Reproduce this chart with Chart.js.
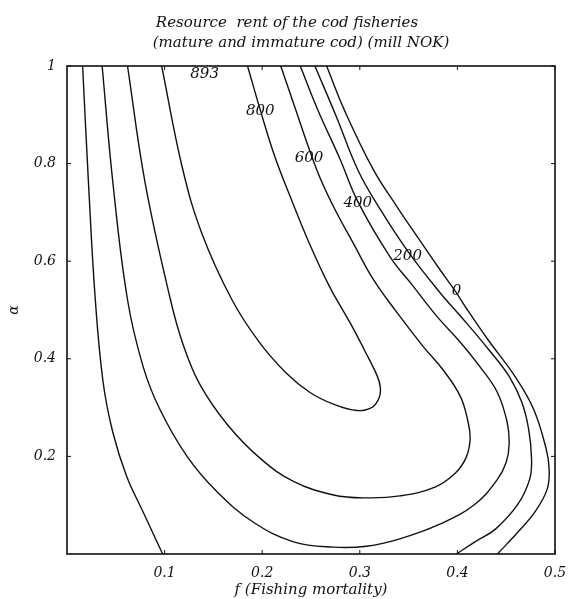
<!DOCTYPE html>
<html lang="en">
<head>
<meta charset="utf-8">
<title>Resource rent of the cod fisheries</title>
<script src="https://cdn.jsdelivr.net/npm/chart.js@4.4.1/dist/chart.umd.min.js"></script>
<style>
  html, body { margin: 0; padding: 0; background: #fff; }
</style>
</head>
<body>
<canvas id="grafico" width="570" height="599"></canvas>
<script>
// Curvas de nivel: pares [f, alfa]
const curva800 = [
  [0.097, 1.000], [0.118, 0.793], [0.138, 0.658], [0.169, 0.521], [0.197, 0.434],
  [0.224, 0.372], [0.249, 0.331], [0.273, 0.307], [0.297, 0.294], [0.313, 0.301],
  [0.320, 0.321], [0.321, 0.342], [0.318, 0.364], [0.306, 0.413], [0.290, 0.474],
  [0.269, 0.548], [0.248, 0.638], [0.230, 0.726], [0.213, 0.814], [0.198, 0.910],
  [0.185, 1.000]
];
const curva600 = [
  [0.062, 1.000], [0.080, 0.761], [0.106, 0.521], [0.119, 0.429], [0.136, 0.348],
  [0.164, 0.266], [0.198, 0.196], [0.232, 0.149], [0.273, 0.121], [0.307, 0.115],
  [0.341, 0.119], [0.377, 0.137], [0.398, 0.166], [0.409, 0.198], [0.413, 0.235],
  [0.411, 0.270], [0.403, 0.323], [0.385, 0.378], [0.365, 0.425], [0.338, 0.495],
  [0.314, 0.562], [0.293, 0.638], [0.273, 0.712], [0.256, 0.787], [0.231, 0.930],
  [0.219, 1.000]
];
const curva400 = [
  [0.036, 1.000], [0.047, 0.761], [0.062, 0.521], [0.078, 0.384], [0.095, 0.297],
  [0.123, 0.200], [0.154, 0.127], [0.191, 0.065], [0.232, 0.025], [0.273, 0.014],
  [0.307, 0.016], [0.341, 0.031], [0.382, 0.061], [0.418, 0.102], [0.441, 0.153],
  [0.450, 0.188], [0.453, 0.225], [0.451, 0.270], [0.441, 0.331], [0.423, 0.384],
  [0.403, 0.434], [0.379, 0.487], [0.355, 0.548], [0.331, 0.609], [0.298, 0.722],
  [0.280, 0.808], [0.257, 0.910], [0.239, 1.000]
];
const curva200Izq = [
  [0.016, 1.000], [0.022, 0.761], [0.029, 0.521], [0.037, 0.352], [0.047, 0.249],
  [0.061, 0.160], [0.078, 0.086], [0.098, 0.000]
];
const curva200Der = [
  [0.254, 1.000], [0.276, 0.896], [0.298, 0.787], [0.321, 0.706], [0.350, 0.618],
  [0.382, 0.536], [0.406, 0.481], [0.432, 0.419], [0.453, 0.364], [0.466, 0.311],
  [0.473, 0.256], [0.476, 0.194], [0.474, 0.153], [0.462, 0.102], [0.439, 0.051],
  [0.418, 0.025], [0.399, 0.000]
];
const curva0 = [
  [0.266, 1.000], [0.285, 0.906], [0.314, 0.787], [0.338, 0.712], [0.361, 0.644],
  [0.382, 0.583], [0.398, 0.538], [0.410, 0.501], [0.431, 0.440], [0.459, 0.364],
  [0.478, 0.297], [0.491, 0.215], [0.494, 0.174], [0.492, 0.133], [0.480, 0.088],
  [0.463, 0.047], [0.441, 0.000]
];

// Etiquetas de las curvas: [texto, f, alfa]
const etiquetas = [
  ['893', 0.141, 0.984], ['800', 0.198, 0.908], ['600', 0.248, 0.812],
  ['400', 0.298, 0.720], ['200', 0.349, 0.611], ['0', 0.399, 0.538]
];

const ticksX = [0.1, 0.2, 0.3, 0.4, 0.5];
const ticksY = [0.2, 0.4, 0.6, 0.8, 1];
const titulo = ['Resource  rent of the cod fisheries', '(mature and immature cod) (mill NOK)'];

const FUENTE = '"DejaVu Serif", serif';

function serie(puntos) {
  return {
    data: puntos.map(([f, a]) => ({ x: f, y: a })),
    showLine: true,
    borderColor: '#111',
    borderWidth: 1.4,
    pointRadius: 0,
    tension: 0.4,
    fill: false
  };
}

// Marco, marcas interiores, etiquetas y título
const extras = {
  id: 'extras',
  afterDatasetsDraw(chart) {
    const { ctx, chartArea: a, scales: { x, y } } = chart;
    ctx.save();
    ctx.strokeStyle = '#111';
    ctx.lineWidth = 1.6;
    ctx.strokeRect(a.left, a.top, a.right - a.left, a.bottom - a.top);

    ctx.lineWidth = 1;
    ctx.beginPath();
    ticksX.forEach(v => {
      const px = x.getPixelForValue(v);
      ctx.moveTo(px, a.bottom); ctx.lineTo(px, a.bottom - 4);
      ctx.moveTo(px, a.top); ctx.lineTo(px, a.top + 4);
    });
    ticksY.forEach(v => {
      const py = y.getPixelForValue(v);
      ctx.moveTo(a.left, py); ctx.lineTo(a.left + 4, py);
      ctx.moveTo(a.right, py); ctx.lineTo(a.right - 4, py);
    });
    ctx.stroke();

    ctx.fillStyle = '#111';
    ctx.font = 'italic 15px ' + FUENTE;
    ctx.textAlign = 'center';
    ctx.textBaseline = 'middle';
    etiquetas.forEach(([t, f, al]) => {
      ctx.fillText(t, x.getPixelForValue(f), y.getPixelForValue(al));
    });

    ctx.fillText(titulo[0], 287, 23);
    ctx.fillText(titulo[1], 301, 43);
    ctx.restore();
  }
};

new Chart(document.getElementById('grafico').getContext('2d'), {
  type: 'scatter',
  data: {
    datasets: [curva800, curva600, curva400, curva200Izq, curva200Der, curva0].map(serie)
  },
  options: {
    responsive: false,
    animation: false,
    devicePixelRatio: 1,
    layout: { padding: { top: 66, right: 15, left: 0, bottom: 0 } },
    plugins: {
      legend: { display: false },
      tooltip: { enabled: false }
    },
    scales: {
      x: {
        type: 'linear',
        min: 0,
        max: 0.5,
        afterBuildTicks: s => { s.ticks = ticksX.map(v => ({ value: v })); },
        afterFit: s => { s.height = 45; s.paddingLeft = 0; s.paddingRight = 0; },
        grid: { display: false, drawTicks: false },
        border: { display: false },
        ticks: {
          padding: 11,
          color: '#111',
          maxRotation: 0,
          font: { family: FUENTE, size: 14, style: 'italic' },
          callback: v => String(v)
        },
        title: {
          display: true,
          text: 'f (Fishing mortality)',
          color: '#111',
          padding: { top: 0, bottom: 0 },
          font: { family: FUENTE, size: 15, style: 'italic' }
        }
      },
      y: {
        type: 'linear',
        min: 0,
        max: 1,
        afterBuildTicks: s => { s.ticks = ticksY.map(v => ({ value: v })); },
        afterFit: s => { s.width = 67; s.paddingTop = 0; s.paddingBottom = 0; },
        grid: { display: false, drawTicks: false },
        border: { display: false },
        ticks: {
          padding: 11,
          color: '#111',
          font: { family: FUENTE, size: 14, style: 'italic' },
          callback: v => String(v)
        },
        title: {
          display: true,
          text: 'α',
          color: '#111',
          padding: { top: 6, bottom: 0 },
          font: { family: FUENTE, size: 14, style: 'italic' }
        }
      }
    }
  },
  plugins: [extras]
});
</script>
</body>
</html>
